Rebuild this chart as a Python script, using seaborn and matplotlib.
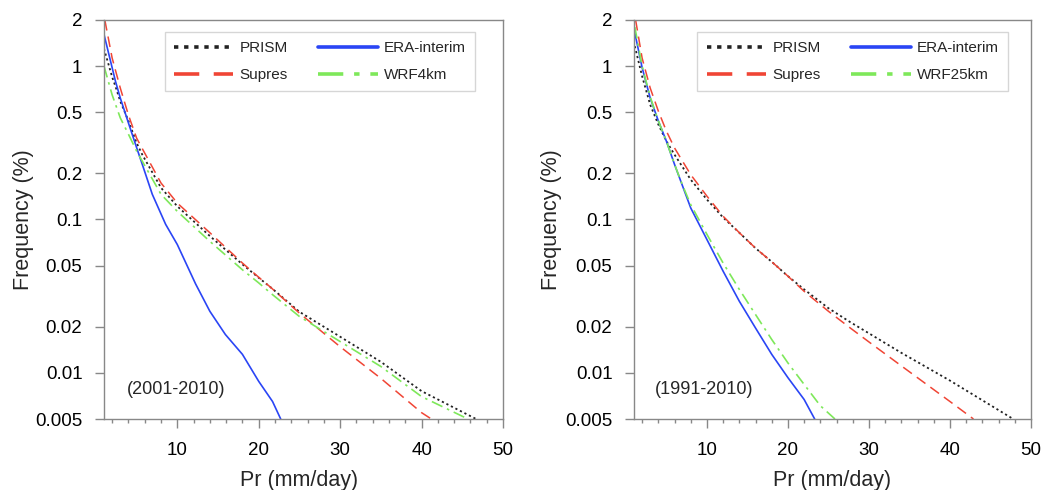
import numpy as np
import pandas as pd
import matplotlib
matplotlib.use("Agg")
import matplotlib.pyplot as plt
import seaborn as sns
from matplotlib.ticker import FixedLocator, FixedFormatter, MultipleLocator

sns.set_style("white")
plt.rcParams['font.family'] = ['Liberation Sans', 'DejaVu Sans']

# ---------------- data ----------------
# Left panel (2001-2010)
L_prism_x = [1, 2, 2.4, 3, 4, 5, 5.7, 8, 10, 14, 18, 20, 21.5, 25, 30, 35, 40, 46.7]
L_prism_y = [1.3, 0.85, 0.74, 0.59, 0.44, 0.316, 0.265, 0.161, 0.122, 0.078, 0.051, 0.0417, 0.036, 0.025, 0.0172, 0.0118, 0.0076, 0.005]
L_supres_x = [1.1, 2, 3, 4, 5, 5.7, 8, 10, 14, 18, 20, 21.5, 25, 30, 35, 40, 41.2]
L_supres_y = [2.0, 1.13, 0.72, 0.48, 0.34, 0.29, 0.173, 0.128, 0.082, 0.052, 0.042, 0.036, 0.0245, 0.0148, 0.0092, 0.0055, 0.005]
L_era_x = [1, 2.4, 3, 4.06, 5, 5.7, 6.93, 8.57, 10, 12.25, 14, 15.9, 18, 20, 21.7, 22.7]
L_era_y = [1.61, 0.80, 0.62, 0.417, 0.295, 0.229, 0.146, 0.093, 0.0687, 0.038, 0.0252, 0.0178, 0.0132, 0.0088, 0.0065, 0.005]
L_wrf_x = [1, 2, 3, 4, 5, 5.7, 8, 10, 14, 18, 20, 21.5, 25, 30, 35, 40, 45.7]
L_wrf_y = [1.0, 0.65, 0.46, 0.36, 0.28, 0.24, 0.146, 0.113, 0.072, 0.047, 0.0386, 0.033, 0.0233, 0.016, 0.011, 0.007, 0.005]

# Right panel (1991-2010)
R_prism_x = [1.1, 2, 3, 4, 5, 6, 8, 10, 12, 14, 16, 18, 20, 22, 25, 27.7, 30, 34, 40, 47.8]
R_prism_y = [1.35, 0.86, 0.56, 0.417, 0.324, 0.265, 0.182, 0.135, 0.103, 0.082, 0.065, 0.053, 0.0427, 0.035, 0.0264, 0.0214, 0.0181, 0.0135, 0.0089, 0.005]
R_supres_x = [1.2, 2, 3, 4, 5, 6, 8, 10, 12, 14, 16, 18, 20, 22, 25, 27.7, 30, 34, 40, 42.9]
R_supres_y = [2.0, 1.13, 0.72, 0.51, 0.377, 0.293, 0.196, 0.142, 0.105, 0.082, 0.065, 0.053, 0.0427, 0.034, 0.0252, 0.0196, 0.0159, 0.0111, 0.0065, 0.005]
R_era_x = [1.1, 2, 3, 4, 5, 6, 7, 8, 10, 12, 14, 16, 18, 20, 22, 23.3]
R_era_y = [1.65, 0.98, 0.62, 0.44, 0.324, 0.229, 0.165, 0.119, 0.074, 0.046, 0.0293, 0.0196, 0.0132, 0.0093, 0.0067, 0.005]
R_wrf_x = [1.1, 2, 3, 4, 5, 6, 7, 8, 10, 12, 14, 16, 18, 20, 22, 24, 25.8]
R_wrf_y = [1.8, 1.0, 0.63, 0.44, 0.324, 0.229, 0.167, 0.125, 0.080, 0.052, 0.035, 0.024, 0.0165, 0.0116, 0.0084, 0.0061, 0.005]

# legend order: column 1 = PRISM, Supres ; column 2 = ERA-interim, WRF
series_names_left = ["PRISM", "Supres", "ERA-interim", "WRF4km"]
series_names_right = ["PRISM", "Supres", "ERA-interim", "WRF25km"]
periods = ["(2001-2010)", "(1991-2010)"]

y_ticks = [2, 1, 0.5, 0.2, 0.1, 0.05, 0.02, 0.01, 0.005]
y_tick_labels = ["2", "1", "0.5", "0.2", "0.1", "0.05", "0.02", "0.01", "0.005"]
x_ticks = [10, 20, 30, 40, 50]

# ---------------- styles ----------------
styles = {
    "PRISM": dict(color="#222222", linestyle=(0, (1.2, 1.6)), lw=1.3),
    "Supres": dict(color="#f04535", linestyle=(0, (7, 4)), lw=1.1),
    "ERA-interim": dict(color="#2a45f5", linestyle="-", lw=1.2),
    "WRF": dict(color="#7ee85a", linestyle=(0, (7, 3, 1.5, 3)), lw=1.2),
}

fig = plt.figure(figsize=(10.46, 4.9), dpi=100)
ax1 = fig.add_axes([104 / 1046, 1 - 419 / 490, 399 / 1046, 399 / 490])
ax2 = fig.add_axes([634 / 1046, 1 - 419 / 490, 397 / 1046, 399 / 490])

panels = [
    (ax1, [(L_prism_x, L_prism_y), (L_supres_x, L_supres_y), (L_era_x, L_era_y), (L_wrf_x, L_wrf_y)],
     series_names_left, periods[0], 0.930, 0.058, -0.203, 0.49),
    (ax2, [(R_prism_x, R_prism_y), (R_supres_x, R_supres_y), (R_era_x, R_era_y), (R_wrf_x, R_wrf_y)],
     series_names_right, periods[1], 0.942, 0.053, -0.209, 0.50),
]

for ax, data, names, period, leg_right, txt_x, ylab_x, xlab_x in panels:
    for (xs, ys), name in zip(data, names):
        key = "WRF" if name.startswith("WRF") else name
        st = styles[key]
        df = pd.DataFrame({"x": xs, "y": ys})
        sns.lineplot(data=df, x="x", y="y", ax=ax, color=st["color"], linestyle=st["linestyle"],
                     linewidth=st["lw"], sort=False, estimator=None, label=name, legend=False)
    ax.set_yscale("log")
    ax.set_xlim(1, 50)
    ax.set_ylim(0.005, 2)
    ax.yaxis.set_major_locator(FixedLocator(y_ticks))
    ax.yaxis.set_major_formatter(FixedFormatter(y_tick_labels))
    ax.yaxis.set_minor_locator(FixedLocator([]))
    ax.xaxis.set_major_locator(FixedLocator(x_ticks))
    ax.xaxis.set_minor_locator(MultipleLocator(2))
    ax.tick_params(axis="both", which="major", direction="out", length=6.5, width=1,
                   color="#888888", labelsize=13.5, labelcolor="black")
    ax.tick_params(axis="x", which="major", pad=10)
    ax.tick_params(axis="y", which="major", pad=9)
    ax.tick_params(axis="x", which="minor", direction="out", length=3, width=1, color="#888888")
    ax.tick_params(bottom=True, left=True, top=False, right=False, which="both")
    for sp in ax.spines.values():
        sp.set_color("#888888")
        sp.set_linewidth(1.0)
    ax.set_xlabel("Pr (mm/day)", fontsize=15.5)
    ax.set_ylabel("Frequency (%)", fontsize=15.5)
    ax.xaxis.label.set_va("center")
    ax.yaxis.label.set_va("center")
    ax.xaxis.set_label_coords(xlab_x, -0.153)
    ax.yaxis.set_label_coords(ylab_x, 0.5)
    ax.text(txt_x, 0.075, period, transform=ax.transAxes, fontsize=13, va="center", ha="left")

    leg = ax.legend(ncol=2, loc="upper right", bbox_to_anchor=(leg_right, 0.97), borderaxespad=0,
                    frameon=True, fancybox=False, edgecolor="#cccccc", fontsize=11,
                    handlelength=3.9, handletextpad=0.4, columnspacing=2.0, labelspacing=0.85,
                    borderpad=0.6)
    leg.get_frame().set_linewidth(1.0)
    for line in leg.get_lines():
        line.set_linewidth(2.6)

fig.savefig("out.png", dpi=100)
